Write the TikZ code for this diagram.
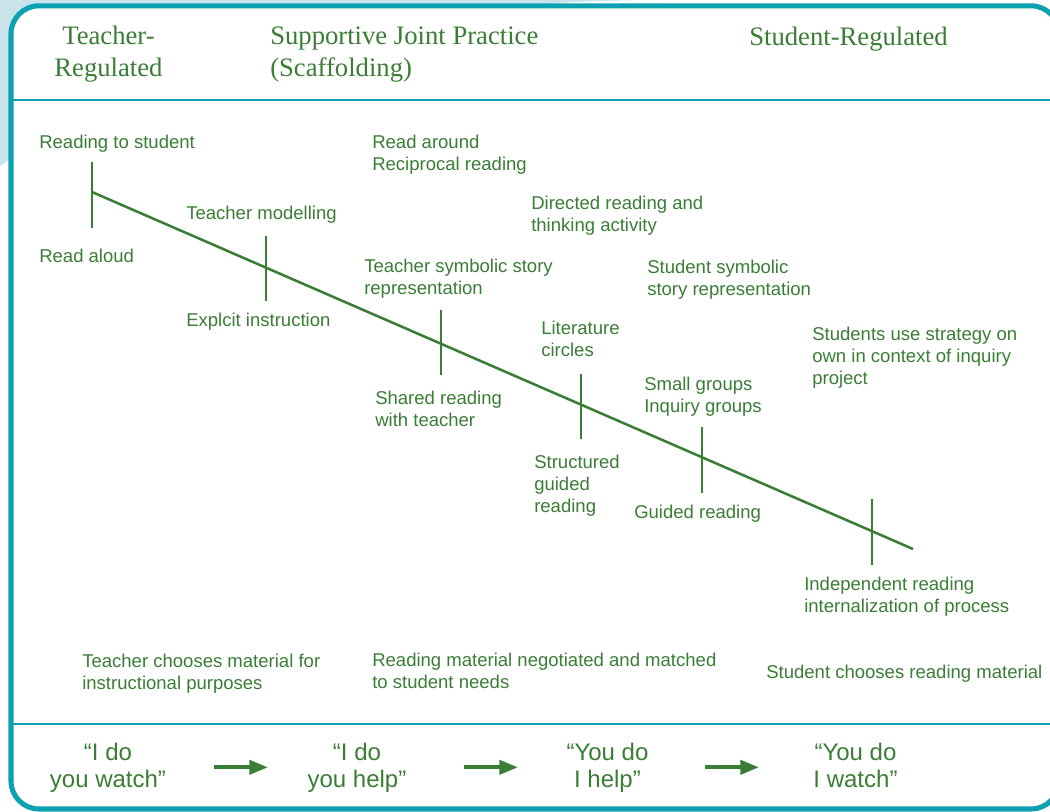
\documentclass[tikz,border=0pt]{standalone}
\usepackage{fontspec}
\setmainfont{Liberation Serif}
\newfontfamily\sansf{Liberation Sans}
\usetikzlibrary{arrows.meta}
\definecolor{teal1}{HTML}{0CA0B0}
\definecolor{lightbg}{HTML}{C8E4EA}
\definecolor{grn}{HTML}{3A7D35}
\tikzset{
  body/.style={anchor=base west, align=left, inner sep=0pt, text=grn, font=\sansf\fontsize{13.9pt}{16.8pt}\selectfont},
  head/.style={anchor=base west, align=left, inner sep=0pt, text=grn, font=\fontsize{20pt}{23.8pt}\selectfont},
  quote/.style={anchor=base, align=center, inner sep=0pt, text=grn, font=\sansf\fontsize{18pt}{20.6pt}\selectfont},
  tick/.style={draw=grn, line width=1.9pt},
  flow/.style={draw=grn, line width=3pt, -{Triangle[length=14pt,width=10.5pt]}},
  sep/.style={draw=teal1, line width=2.2pt}
}
\begin{document}
\begin{tikzpicture}[x=0.75pt,y=-0.75pt]
\useasboundingbox (0,0) rectangle (1050,811);
% background decoration
\fill[lightbg] (0,0) -- (660,0) .. controls (400,0) and (150,60) .. (0,166) -- cycle;
% frame
\draw[teal1, fill=white, line width=3.8pt, rounded corners=21pt] (11,5.8) rectangle (1059,809);
\draw[sep] (11,100) -- (1050,100);
\draw[sep] (11,724) -- (1050,724);
% headers (anchor base = last line's baseline)
\node[head, anchor=base, align=center] (th) at (108.5,76.7) {Teacher-\\Regulated};
\node[head] (sj) at (270,76.7) {Supportive Joint Practice\\(Scaffolding)};
\node[head] (sr) at (749,45) {Student-Regulated};
% diagonal line and ticks
\coordinate (ls) at (92,192);
\coordinate (le) at (913,549);
\draw[tick] (ls) -- (le);
\coordinate (t1a) at (92,162); \coordinate (t1b) at (92,228);
\coordinate (t2a) at (266,236); \coordinate (t2b) at (266,301);
\coordinate (t3a) at (441,310); \coordinate (t3b) at (441,375);
\coordinate (t4a) at (581,374); \coordinate (t4b) at (581,439);
\coordinate (t5a) at (702,427); \coordinate (t5b) at (702,493);
\coordinate (t6a) at (872,499); \coordinate (t6b) at (872,565);
\foreach \i in {1,...,6} {\draw[tick] (t\i a) -- (t\i b);}
% labels
\node[body] (a1) at (39,148) {Reading to student};
\node[body] (a2) at (39,262) {Read aloud};
\node[body] (b1) at (186,219) {Teacher modelling};
\node[body] (b2) at (186,326) {Explcit instruction};
\node[body] (c0) at (372,170.4) {Read around\\Reciprocal reading};
\node[body] (c1) at (364,294.4) {Teacher symbolic story\\representation};
\node[body] (c2) at (375,426.4) {Shared reading\\with teacher};
\node[body] (d0) at (531,231.4) {Directed reading and\\thinking activity};
\node[body] (d1) at (541,356.4) {Literature\\circles};
\node[body] (d2) at (534,512.8) {Structured\\guided\\reading};
\node[body] (e0) at (647,295.4) {Student symbolic\\story representation};
\node[body] (e1) at (644,412.4) {Small groups\\Inquiry groups};
\node[body] (e2) at (634,518) {Guided reading};
\node[body] (f1) at (812,384.8) {Students use strategy on\\own in context of inquiry\\project};
\node[body] (f2) at (804,612.4) {Independent reading\\internalization of process};
\node[body] (g1) at (82,689.4) {Teacher chooses material for\\instructional purposes};
\node[body] (g2) at (372,688.4) {Reading material negotiated and matched\\to student needs};
\node[body] (g3) at (766,678) {Student chooses reading material};
% bottom row
\node[quote] (q1) at (108,787.5) {“I do\\you watch”};
\node[quote] (q2) at (357,787.5) {“I do\\you help”};
\node[quote] (q3) at (607.5,787.5) {“You do\\I help”};
\node[quote] (q4) at (855.5,787.5) {“You do\\I watch”};
\coordinate (r1a) at (214,767.3); \coordinate (r1b) at (268,767.3);
\coordinate (r2a) at (464,767.3); \coordinate (r2b) at (518,767.3);
\coordinate (r3a) at (705,767.3); \coordinate (r3b) at (759,767.3);
\draw[flow] (r1a) -- (r1b);
\draw[flow] (r2a) -- (r2b);
\draw[flow] (r3a) -- (r3b);
\end{tikzpicture}
\end{document}
